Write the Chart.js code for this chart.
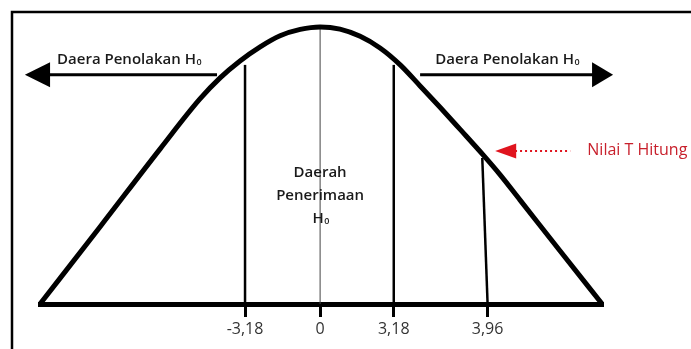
<!DOCTYPE html>
<html>
<head>
<meta charset="utf-8">
<script src="https://cdn.jsdelivr.net/npm/chart.js@4.4.0/dist/chart.umd.min.js"></script>
<style>
  html, body { margin: 0; padding: 0; background: #fff; }
  canvas { display: block; }
</style>
</head>
<body>
<canvas id="chart" width="691" height="349"></canvas>
<script>
// bell curve outline (position along axis, relative height)
const curveX = [-10, -7.86, -5.71, -4.29, -3.57, -2.86, -2.14, -1.43, -0.71, 0,
                0.71, 1.43, 2.14, 2.86, 3.57, 4.29, 5.0, 5.82, 6.43, 7.14, 8.57, 10.07];
const curveY = [0, 0.278, 0.56, 0.74, 0.816, 0.877, 0.928, 0.968, 0.991, 1,
                0.992, 0.966, 0.924, 0.863, 0.787, 0.709, 0.63, 0.538, 0.466, 0.375, 0.191, 0];

// t values marked on the axis
const tickPos = [-2.68, 0, 2.63, 5.98];
const tickLabels = ['-3,18', '0', '3,18', '3,96'];

// vertical lines: bottom x, top x, top height
const lineBottomX = [-2.68, 0, 2.63, 5.98];
const lineTopX = [-2.68, 0, 2.63, 5.79];
const lineTopY = [0.863, 1, 0.863, 0.527];
const lineWidths = [2.5, 1, 2.5, 2.5];

const FONT = '"Open Sans", sans-serif';

const datasets = [{
  data: curveX.map((x, i) => ({ x, y: curveY[i] })),
  showLine: true,
  borderColor: '#000',
  borderWidth: 5,
  pointRadius: 0,
  cubicInterpolationMode: 'monotone',
  clip: false,
}];
lineBottomX.forEach((x, i) => {
  datasets.push({
    data: [{ x, y: 0 }, { x: lineTopX[i], y: lineTopY[i] }],
    showLine: true,
    borderColor: i === 1 ? '#444' : '#000',
    borderWidth: lineWidths[i],
    pointRadius: 0,
  });
});

// text with a small subscript zero after the H
function textH0(ctx, label, x, y, font) {
  ctx.font = font;
  ctx.fillText(label, x, y);
  const w = ctx.measureText(label).width;
  ctx.font = '600 9px ' + FONT;
  ctx.fillText('0', x + w + 0.5, y + 1);
}

function arrowHead(ctx, tipX, baseX, y, half) {
  ctx.beginPath();
  ctx.moveTo(tipX, y);
  ctx.lineTo(baseX, y - half);
  ctx.lineTo(baseX, y + half);
  ctx.closePath();
  ctx.fill();
}

const annotations = {
  id: 'annotations',
  beforeDraw(chart) {
    const ctx = chart.ctx;
    ctx.save();
    ctx.fillStyle = '#fff';
    ctx.fillRect(0, 0, chart.width, chart.height);
    ctx.strokeStyle = '#000';
    ctx.lineWidth = 2.5;
    ctx.beginPath();
    ctx.moveTo(chart.width, 12);
    ctx.lineTo(12, 12);
    ctx.lineTo(12, chart.height);
    ctx.stroke();
    ctx.restore();
  },
  afterDraw(chart) {
    const ctx = chart.ctx;
    const px = v => chart.scales.x.getPixelForValue(v);
    const py = v => chart.scales.y.getPixelForValue(v);
    const textFont = '600 15px ' + FONT;
    ctx.save();

    // rejection region arrows
    ctx.strokeStyle = '#000';
    ctx.fillStyle = '#000';
    ctx.lineWidth = 3;
    const ay = py(0.827);
    ctx.beginPath();
    ctx.moveTo(px(-3.68), ay);
    ctx.lineTo(px(-9.7), ay);
    ctx.moveTo(px(3.57), ay);
    ctx.lineTo(px(9.75), ay);
    ctx.stroke();
    arrowHead(ctx, px(-10.54), px(-9.64), ay, 12.5);
    arrowHead(ctx, px(10.46), px(9.71), ay, 12.5);

    ctx.fillStyle = '#1a1a1a';
    ctx.textAlign = 'left';
    ctx.textBaseline = 'alphabetic';
    textH0(ctx, 'Daera Penolakan H', px(-9.39), py(0.866), textFont);
    textH0(ctx, 'Daera Penolakan H', px(4.11), py(0.866), textFont);

    // acceptance region label
    ctx.textAlign = 'center';
    ctx.font = textFont;
    ctx.fillText('Daerah', px(0), py(0.458));
    ctx.fillText('Penerimaan', px(0), py(0.375));
    ctx.textAlign = 'left';
    const hw = ctx.measureText('H').width;
    textH0(ctx, 'H', px(0) - hw / 2 - 2, py(0.292), textFont);

    // t hitung pointer
    const ry = py(0.552);
    ctx.strokeStyle = '#e0141e';
    ctx.fillStyle = '#e0141e';
    ctx.lineWidth = 2;
    ctx.setLineDash([2, 3]);
    ctx.beginPath();
    ctx.moveTo(px(6.96), ry);
    ctx.lineTo(px(8.93), ry);
    ctx.stroke();
    ctx.setLineDash([]);
    arrowHead(ctx, px(6.25), px(7.0), ry, 7.5);
    ctx.fillStyle = '#c8202c';
    ctx.font = '16px ' + FONT;
    ctx.fillText('Nilai T Hitung', px(9.54), py(0.538));

    ctx.restore();
  }
};

new Chart(document.getElementById('chart'), {
  type: 'scatter',
  data: { datasets },
  options: {
    responsive: false,
    animation: false,
    devicePixelRatio: 1,
    layout: { padding: { left: 40, right: 88, top: 20, bottom: 0 } },
    plugins: {
      legend: { display: false },
      tooltip: { enabled: false },
    },
    scales: {
      x: {
        type: 'linear',
        min: -10,
        max: 10.1,
        afterBuildTicks: s => { s.ticks = tickPos.map(v => ({ value: v })); },
        afterFit: s => { s.height = 45; },
        grid: { drawOnChartArea: false, drawTicks: true, tickLength: 13, tickWidth: 3, color: '#000' },
        border: { display: true, color: '#000', width: 5 },
        ticks: {
          autoSkip: false,
          maxRotation: 0,
          padding: 3,
          color: '#333',
          font: { family: FONT, size: 16 },
          callback: (v, i) => tickLabels[i],
        },
      },
      y: { display: false, min: 0, max: 1.025 },
    },
  },
  plugins: [annotations],
});
</script>
</body>
</html>
